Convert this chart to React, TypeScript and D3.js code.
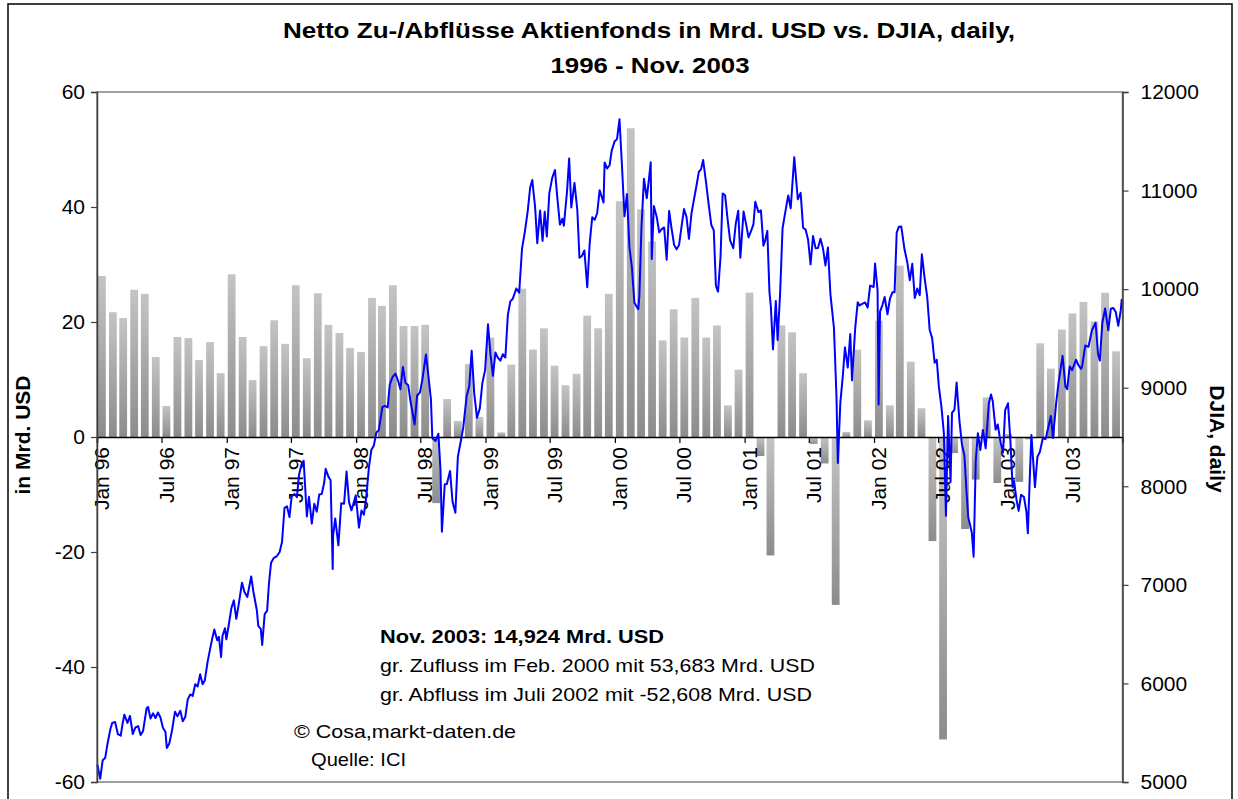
import React, { useEffect, useRef } from 'react';
import * as d3 from 'd3';

// monthly net flows into equity funds, bn USD (Jan 96 .. Nov 03)
const flows1996 = [28.0, 21.7, 20.7, 25.6, 24.9, 13.9, 5.4, 17.4, 17.2, 13.4, 16.5, 11.1];
const flows1997 = [28.3, 17.4, 9.9, 15.8, 20.3, 16.2, 26.4, 13.7, 25.0, 19.5, 18.1, 15.5];
const flows1998 = [14.8, 24.2, 22.8, 26.4, 19.3, 19.3, 19.5, -11.5, 6.6, 2.8, 12.7, 3.5];
const flows1999 = [17.3, 0.8, 12.6, 25.8, 15.2, 18.9, 12.4, 9.0, 11.0, 21.1, 18.9, 24.9];
const flows2000 = [41.0, 53.7, 39.6, 34.0, 16.8, 22.2, 17.3, 24.2, 17.3, 19.4, 5.5, 11.7];
const flows2001 = [25.1, -3.3, -20.6, 19.4, 18.2, 11.1, -1.2, -4.6, -29.2, 0.9, 15.2, 2.9];
const flows2002 = [20.2, 5.5, 29.8, 13.1, 5.0, -18.1, -52.6, -2.8, -16.0, -7.4, 6.9, -8.0];
const flows2003 = [0.5, -7.8, -0.4, 16.3, 11.9, 18.7, 21.5, 23.5, 20.1, 25.1, 14.9];

// DJIA closes [mm-dd, value]
const djia1996: [string, number][] = [
  ['01-02', 5177], ['01-10', 5032], ['01-17', 5220], ['01-24', 5243], ['01-31', 5395],
  ['02-08', 5540], ['02-13', 5600], ['02-21', 5608], ['02-29', 5485], ['03-08', 5470],
  ['03-13', 5587], ['03-18', 5683], ['03-27', 5600], ['04-03', 5671], ['04-11', 5487],
  ['04-18', 5551], ['04-26', 5567], ['05-03', 5476], ['05-10', 5518], ['05-20', 5748],
  ['05-24', 5762], ['05-31', 5643], ['06-07', 5697], ['06-14', 5649], ['06-21', 5705],
  ['06-28', 5654], ['07-05', 5550], ['07-12', 5510], ['07-16', 5346], ['07-23', 5390],
  ['07-31', 5529], ['08-08', 5713], ['08-15', 5666], ['08-23', 5723], ['08-30', 5616],
  ['09-06', 5660], ['09-13', 5838], ['09-20', 5888], ['09-27', 5873], ['10-04', 5992],
  ['10-11', 5969], ['10-18', 6094], ['10-25', 5992], ['10-31', 6029], ['11-08', 6219],
  ['11-15', 6348], ['11-22', 6472], ['11-27', 6547], ['12-05', 6437], ['12-10', 6473],
  ['12-16', 6268], ['12-20', 6484], ['12-27', 6560], ['12-31', 6448],
];
const djia1997: [string, number][] = [
  ['01-07', 6600], ['01-14', 6762], ['01-21', 6843], ['01-28', 6656], ['02-04', 6807],
  ['02-13', 7022], ['02-20', 6927], ['02-28', 6877], ['03-11', 7085], ['03-17', 6935],
  ['03-27', 6740], ['03-31', 6583], ['04-07', 6554], ['04-11', 6391], ['04-18', 6703],
  ['04-25', 6738], ['04-30', 7009], ['05-06', 7225], ['05-14', 7274], ['05-22', 7290],
  ['05-30', 7331], ['06-06', 7435], ['06-13', 7782], ['06-20', 7796], ['06-27', 7687],
  ['07-03', 7896], ['07-11', 7922], ['07-18', 7890], ['07-24', 8117], ['07-31', 8223],
  ['08-06', 8259], ['08-15', 7694], ['08-21', 7893], ['08-29', 7622], ['09-05', 7822],
  ['09-12', 7742], ['09-19', 7917], ['09-26', 7922], ['10-03', 8038], ['10-07', 8178],
  ['10-15', 8096], ['10-21', 8061], ['10-27', 7161], ['10-28', 7498], ['11-03', 7674],
  ['11-12', 7401], ['11-20', 7827], ['11-28', 7823], ['12-05', 8149], ['12-12', 7839],
  ['12-19', 7756], ['12-31', 7908],
];
const djia1998: [string, number][] = [
  ['01-09', 7580], ['01-16', 7754], ['01-23', 7712], ['01-30', 7907], ['02-06', 8189],
  ['02-13', 8370], ['02-20', 8413], ['02-27', 8546], ['03-06', 8569], ['03-16', 8803],
  ['03-23', 8816], ['03-31', 8800], ['04-06', 9033], ['04-14', 9110], ['04-22', 9143],
  ['04-30', 9063], ['05-06', 8984], ['05-13', 9211], ['05-20', 9050], ['05-28', 9026],
  ['06-03', 8870], ['06-15', 8627], ['06-22', 8921], ['06-30', 8952], ['07-07', 9085],
  ['07-17', 9338], ['07-24', 9116], ['07-31', 8883], ['08-04', 8487], ['08-13', 8459],
  ['08-21', 8533], ['08-27', 8166], ['08-31', 7539], ['09-08', 8021], ['09-14', 8024],
  ['09-23', 8154], ['09-30', 7843], ['10-08', 7732], ['10-15', 8299], ['10-23', 8452],
  ['10-30', 8592], ['11-09', 8919], ['11-16', 9011], ['11-23', 9374], ['11-30', 8950],
  ['12-08', 8695], ['12-16', 8790], ['12-23', 9044], ['12-31', 9181],
];
const djia1999: [string, number][] = [
  ['01-08', 9643], ['01-15', 9340], ['01-22', 9120], ['01-29', 9358], ['02-05', 9304],
  ['02-12', 9274], ['02-19', 9340], ['02-26', 9306], ['03-05', 9736], ['03-12', 9876],
  ['03-19', 9903], ['03-29', 10006], ['04-06', 9963], ['04-14', 10411], ['04-22', 10581],
  ['04-30', 10789], ['05-07', 11031], ['05-13', 11107], ['05-21', 10829], ['05-27', 10466],
  ['06-04', 10799], ['06-11', 10490], ['06-17', 10784], ['06-23', 10534], ['06-30', 10971],
  ['07-08', 11126], ['07-16', 11209], ['07-23', 10911], ['07-30', 10655], ['08-06', 10714],
  ['08-10', 10643], ['08-19', 10991], ['08-25', 11326], ['08-31', 10829], ['09-09', 11078],
  ['09-17', 10803], ['09-23', 10318], ['09-30', 10337], ['10-07', 10392], ['10-15', 10019],
  ['10-22', 10470], ['10-29', 10729], ['11-05', 10704], ['11-12', 10770], ['11-19', 11004],
  ['11-30', 10878], ['12-03', 11286], ['12-10', 11224], ['12-17', 11257], ['12-23', 11405],
  ['12-31', 11497],
];
const djia2000: [string, number][] = [
  ['01-07', 11522], ['01-14', 11723], ['01-21', 11252], ['01-28', 10739], ['02-04', 10964],
  ['02-11', 10425], ['02-18', 10220], ['02-25', 9862], ['03-07', 9796], ['03-10', 9929],
  ['03-16', 10630], ['03-23', 11119], ['03-31', 10922], ['04-06', 11114], ['04-11', 11287],
  ['04-14', 10306], ['04-20', 10844], ['04-28', 10733], ['05-05', 10577], ['05-12', 10609],
  ['05-19', 10626], ['05-26', 10299], ['06-02', 10794], ['06-09', 10614], ['06-16', 10449],
  ['06-23', 10404], ['06-30', 10447], ['07-07', 10635], ['07-14', 10812], ['07-21', 10733],
  ['07-28', 10511], ['08-04', 10767], ['08-11', 10908], ['08-18', 11046], ['08-25', 11192],
  ['08-31', 11215], ['09-06', 11310], ['09-14', 11087], ['09-22', 10847], ['09-29', 10651],
  ['10-06', 10596], ['10-12', 10034], ['10-18', 9975], ['10-25', 10326], ['10-31', 10971],
  ['11-07', 10952], ['11-14', 10707], ['11-21', 10494], ['11-30', 10415], ['12-07', 10665],
  ['12-14', 10795], ['12-20', 10318], ['12-29', 10787],
];
const djia2001: [string, number][] = [
  ['01-05', 10662], ['01-12', 10525], ['01-19', 10588], ['01-26', 10659], ['01-31', 10887],
  ['02-09', 10781], ['02-16', 10799], ['02-23', 10441], ['02-28', 10495], ['03-06', 10591],
  ['03-12', 9973], ['03-16', 9823], ['03-22', 9389], ['03-30', 9879], ['04-04', 9485],
  ['04-11', 9948], ['04-18', 10616], ['04-27', 10810], ['05-04', 10951], ['05-11', 10821],
  ['05-21', 11337], ['05-31', 10912], ['06-08', 10977], ['06-15', 10623], ['06-22', 10604],
  ['06-29', 10502], ['07-06', 10252], ['07-13', 10539], ['07-20', 10416], ['07-27', 10417],
  ['08-03', 10512], ['08-10', 10416], ['08-17', 10240], ['08-24', 10423], ['08-31', 9950],
  ['09-10', 9606], ['09-17', 8921], ['09-21', 8236], ['09-28', 8848], ['10-05', 9120],
  ['10-11', 9410], ['10-19', 9205], ['10-26', 9545], ['10-31', 9075], ['11-09', 9608],
  ['11-16', 9867], ['11-21', 9835], ['11-30', 9852], ['12-07', 9865], ['12-14', 9812],
  ['12-21', 10036], ['12-31', 10022],
];
const djia2002: [string, number][] = [
  ['01-04', 10260], ['01-11', 9987], ['01-14', 8830], ['01-18', 9772], ['01-25', 9841],
  ['01-31', 9920], ['02-08', 9745], ['02-15', 9903], ['02-22', 9968], ['02-28', 9968],
  ['03-06', 10574], ['03-12', 10632], ['03-19', 10635], ['03-28', 10404], ['04-05', 10271],
  ['04-12', 10091], ['04-19', 10257], ['04-26', 9911], ['05-03', 10006], ['05-10', 9939],
  ['05-16', 10353], ['05-24', 10105], ['05-31', 9925], ['06-07', 9589], ['06-14', 9503],
  ['06-21', 9253], ['06-27', 9282], ['07-03', 9008], ['07-10', 8813], ['07-17', 8542],
  ['07-23', 7702], ['07-29', 8712], ['08-05', 8043], ['08-09', 8745], ['08-16', 8778],
  ['08-22', 9053], ['08-30', 8664], ['09-06', 8427], ['09-13', 8313], ['09-19', 7942],
  ['09-24', 7683], ['09-30', 7592], ['10-04', 7528], ['10-09', 7286], ['10-15', 8255],
  ['10-21', 8538], ['10-28', 8368], ['11-04', 8571], ['11-12', 8386], ['11-21', 8845],
  ['11-27', 8931], ['12-02', 8862], ['12-10', 8574], ['12-16', 8627], ['12-24', 8448],
  ['12-31', 8342],
];
const djia2003: [string, number][] = [
  ['01-06', 8773], ['01-14', 8842], ['01-21', 8443], ['01-27', 7989], ['01-31', 8053],
  ['02-07', 7864], ['02-13', 7750], ['02-20', 7914], ['02-28', 7891], ['03-07', 7740],
  ['03-11', 7524], ['03-17', 8141], ['03-21', 8521], ['03-31', 7992], ['04-07', 8300],
  ['04-14', 8351], ['04-22', 8485], ['04-30', 8480], ['05-07', 8588], ['05-15', 8713],
  ['05-21', 8491], ['05-30', 8850], ['06-06', 9062], ['06-17', 9323], ['06-25', 9011],
  ['06-30', 8985], ['07-07', 9216], ['07-14', 9178], ['07-25', 9284], ['07-31', 9233],
  ['08-08', 9191], ['08-11', 9217], ['08-20', 9428], ['08-29', 9415], ['09-08', 9586],
  ['09-18', 9659], ['09-25', 9343], ['09-30', 9275], ['10-07', 9654], ['10-15', 9803],
  ['10-24', 9582], ['10-31', 9801], ['11-07', 9809], ['11-14', 9768], ['11-21', 9628],
  ['11-28', 9782], ['12-01', 9899],
];

const xTickLabels = ['Jan 96', 'Jul 96', 'Jan 97', 'Jul 97', 'Jan 98', 'Jul 98', 'Jan 99', 'Jul 99',
  'Jan 00', 'Jul 00', 'Jan 01', 'Jul 01', 'Jan 02', 'Jul 02', 'Jan 03', 'Jul 03'];
const leftTicks = [-60, -40, -20, 0, 20, 40, 60];
const rightTicks = [5000, 6000, 7000, 8000, 9000, 10000, 11000, 12000];

const titleLines = ['Netto Zu-/Abflüsse Aktienfonds in Mrd. USD vs. DJIA, daily,', '1996 - Nov. 2003'];
const noteHead = 'Nov. 2003: 14,924 Mrd. USD';
const noteLines = [
  'gr. Zufluss im Feb. 2000 mit 53,683 Mrd. USD',
  'gr. Abfluss im Juli 2002 mit -52,608 Mrd. USD',
];

const FONT = '"Liberation Sans", Arial, Helvetica, sans-serif';
const W = 1238;
const H = 799;
const left = 97, right = 1122.5, top = 92, bottom = 782;

const App = () => {
  const svgRef = useRef(null);

  useEffect(() => {
    const svg = d3.select(svgRef.current);
    svg.selectAll('*').remove();

    const flows = [...flows1996, ...flows1997, ...flows1998, ...flows1999,
      ...flows2000, ...flows2001, ...flows2002, ...flows2003];
    const months = d3.timeMonth.range(new Date(1996, 0, 1), new Date(2003, 10, 2));
    const bars = months.map((m, i) => ({ date: m, value: flows[i] }));

    const parse = d3.timeParse('%Y-%m-%d');
    const djia = ([
      [1996, djia1996], [1997, djia1997], [1998, djia1998], [1999, djia1999],
      [2000, djia2000], [2001, djia2001], [2002, djia2002], [2003, djia2003],
    ] as [number, [string, number][]][]).flatMap(([yr, rows]) =>
      rows.map(([md, v]) => ({ date: parse(`${yr}-${md}`) as Date, value: v })));

    const x = d3.scaleTime().domain([new Date(1996, 0, 1), new Date(2003, 11, 3)]).range([left, right]);
    const yL = d3.scaleLinear().domain([-60, 60]).range([bottom, top]);
    const yR = d3.scaleLinear().domain([5000, 12000]).range([bottom, top]);

    const defs = svg.append('defs');
    const grad = defs.append('linearGradient').attr('id', 'barGrad')
      .attr('x1', 0).attr('y1', 0).attr('x2', 0).attr('y2', 1);
    grad.append('stop').attr('offset', '0%').attr('stop-color', '#c4c4c4');
    grad.append('stop').attr('offset', '100%').attr('stop-color', '#8c8c8c');

    svg.append('rect').attr('width', W).attr('height', H).attr('fill', '#fff');
    // outer frame
    svg.append('rect').attr('x', 8).attr('y', 4).attr('width', 1224).attr('height', 820)
      .attr('fill', 'none').attr('stroke', '#000').attr('stroke-width', 1.5);

    // plot area border
    svg.append('rect').attr('x', left).attr('y', top).attr('width', right - left).attr('height', bottom - top)
      .attr('fill', 'none').attr('stroke', '#808080').attr('stroke-width', 1.5);

    // bars
    svg.append('g').selectAll('rect').data(bars).enter().append('rect')
      .attr('x', (d) => x(d.date) + 1)
      .attr('width', 7.8)
      .attr('y', (d) => Math.min(yL(d.value), yL(0)))
      .attr('height', (d) => Math.abs(yL(d.value) - yL(0)))
      .attr('fill', 'url(#barGrad)');

    // zero line with date ticks
    const tickDates = d3.timeMonth.range(new Date(1996, 0, 1), new Date(2003, 7, 1), 6);
    const xAxis = svg.append('g').attr('transform', `translate(0,${yL(0)})`)
      .call(d3.axisBottom(x).tickValues(tickDates).tickSize(6).tickFormat(() => ''));
    xAxis.select('.domain').attr('stroke', '#000').attr('stroke-width', 1.5);
    xAxis.selectAll('.tick line').attr('stroke', '#000').attr('stroke-width', 1.2);

    svg.append('g').selectAll('text').data(tickDates).enter().append('text')
      .attr('transform', (d) => `translate(${x(d) + 12},${yL(0) + 10}) rotate(-90)`)
      .attr('text-anchor', 'end')
      .attr('font-family', FONT).attr('font-size', 21)
      .text((d, i) => xTickLabels[i]);

    // DJIA line
    const line = d3.line<{ date: Date; value: number }>()
      .x((d) => x(d.date))
      .y((d) => yR(d.value));
    svg.append('path').datum(djia)
      .attr('d', line)
      .attr('fill', 'none')
      .attr('stroke', '#0000ff')
      .attr('stroke-width', 2)
      .attr('stroke-linejoin', 'round');

    // left axis
    const axL = svg.append('g').attr('transform', `translate(${left},0)`)
      .call(d3.axisLeft(yL).tickValues(leftTicks).tickSize(6).tickPadding(6).tickFormat((d) => String(d)));
    axL.select('.domain').attr('stroke', '#404040').attr('stroke-width', 1.5);
    axL.selectAll('.tick line').attr('stroke', '#404040').attr('stroke-width', 1.2);
    axL.selectAll('text').attr('font-family', FONT).attr('font-size', 21).attr('fill', '#000');

    // right axis
    const axR = svg.append('g').attr('transform', `translate(${right},0)`)
      .call(d3.axisRight(yR).tickValues(rightTicks).tickSize(6).tickPadding(12).tickFormat((d) => String(d)));
    axR.select('.domain').attr('stroke', '#404040').attr('stroke-width', 1.5);
    axR.selectAll('.tick line').attr('stroke', '#404040').attr('stroke-width', 1.2);
    axR.selectAll('text').attr('font-family', FONT).attr('font-size', 21).attr('fill', '#000');

    // title
    svg.append('text').attr('x', 649).attr('y', 38).attr('text-anchor', 'middle')
      .attr('font-family', FONT).attr('font-size', 22).attr('font-weight', 'bold')
      .attr('textLength', 732).attr('lengthAdjust', 'spacingAndGlyphs')
      .text(titleLines[0]);
    svg.append('text').attr('x', 650).attr('y', 73).attr('text-anchor', 'middle')
      .attr('font-family', FONT).attr('font-size', 22).attr('font-weight', 'bold')
      .attr('textLength', 199).attr('lengthAdjust', 'spacingAndGlyphs')
      .text(titleLines[1]);

    // axis titles
    svg.append('text').attr('transform', 'translate(30,435) rotate(-90)').attr('text-anchor', 'middle')
      .attr('font-family', FONT).attr('font-size', 21).attr('font-weight', 'bold')
      .text('in Mrd. USD');
    svg.append('text').attr('transform', 'translate(1210,439) rotate(90)').attr('text-anchor', 'middle')
      .attr('font-family', FONT).attr('font-size', 21).attr('font-weight', 'bold')
      .text('DJIA, daily');

    // notes
    svg.append('text').attr('x', 380).attr('y', 643)
      .attr('font-family', FONT).attr('font-size', 19).attr('font-weight', 'bold')
      .attr('textLength', 284).attr('lengthAdjust', 'spacingAndGlyphs')
      .text(noteHead);
    svg.append('text').attr('x', 380).attr('y', 672)
      .attr('font-family', FONT).attr('font-size', 19)
      .attr('textLength', 435).attr('lengthAdjust', 'spacingAndGlyphs')
      .text(noteLines[0]);
    svg.append('text').attr('x', 380).attr('y', 701)
      .attr('font-family', FONT).attr('font-size', 19)
      .attr('textLength', 432).attr('lengthAdjust', 'spacingAndGlyphs')
      .text(noteLines[1]);
    svg.append('text').attr('x', 294).attr('y', 738)
      .attr('font-family', FONT).attr('font-size', 19)
      .attr('textLength', 222).attr('lengthAdjust', 'spacingAndGlyphs')
      .text('© Cosa,markt-daten.de');
    svg.append('text').attr('x', 311).attr('y', 766)
      .attr('font-family', FONT).attr('font-size', 19)
      .attr('textLength', 95).attr('lengthAdjust', 'spacingAndGlyphs')
      .text('Quelle: ICI');
  }, []);

  return <svg ref={svgRef} width={W} height={H} style={{ position: 'absolute', left: 0, top: 0 }} />;
};

export default App;
